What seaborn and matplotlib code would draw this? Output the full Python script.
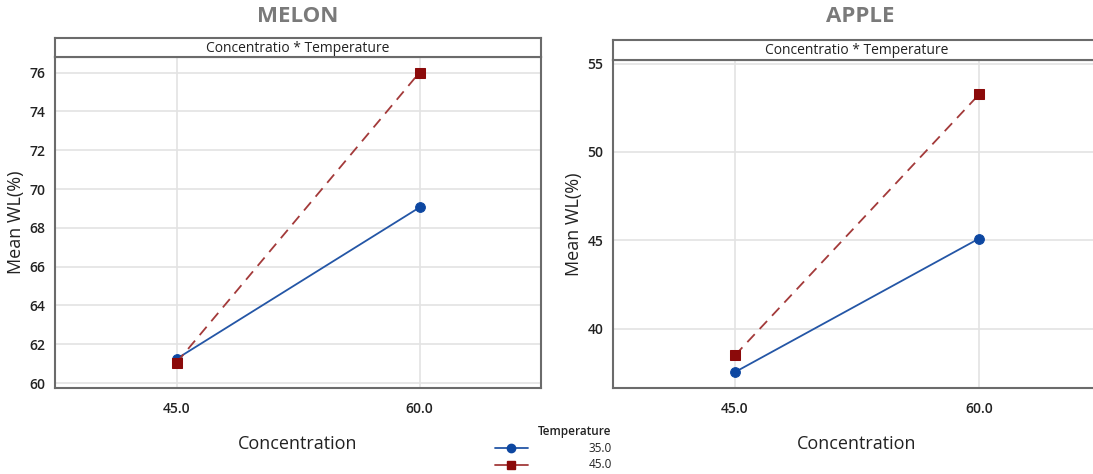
import matplotlib
matplotlib.use("Agg")
import matplotlib.pyplot as plt
from matplotlib.lines import Line2D
import seaborn as sns
import pandas as pd

# ---- data ----
concentration = [45.0, 60.0]
temperatures = ["35.0", "45.0"]
melon_35 = [61.25, 69.05]
melon_45 = [61.05, 76.0]
apple_35 = [37.55, 45.1]
apple_45 = [38.5, 53.25]
melon_yticks = [60, 62, 64, 66, 68, 70, 72, 74, 76]
apple_yticks = [40, 45, 50, 55]
xtick_labels = ["45.0", "60.0"]

def make_df(v35, v45):
    rows = []
    for c, v in zip(concentration, v35):
        rows.append({"Concentration": c, "WL": v, "Temperature": temperatures[0]})
    for c, v in zip(concentration, v45):
        rows.append({"Concentration": c, "WL": v, "Temperature": temperatures[1]})
    return pd.DataFrame(rows)

sns.set_theme(style="white")
plt.rcParams["font.family"] = ["Open Sans", "DejaVu Sans"]

BLUE = "#0d47a1"
RED = "#8b0a0a"
LINE_BLUE = "#2456a6"
LINE_RED = "#a33a3a"
FRAME = "#6b6b6b"

fig = plt.figure(figsize=(10.93, 4.74), dpi=100)

panels = [
    ("MELON", make_df(melon_35, melon_45), melon_yticks, (59.75, 76.8),
     [55 / 1093, 1 - 388 / 474, 486 / 1093, 331 / 474],
     [55 / 1093, 1 - 57 / 474, 486 / 1093, 19 / 474], 298),
    ("APPLE", make_df(apple_35, apple_45), apple_yticks, (36.65, 55.2),
     [613 / 1093, 1 - 388 / 474, 488 / 1093, 328 / 474],
     [613 / 1093, 1 - 60 / 474, 488 / 1093, 20 / 474], 860),
]

for title, df, yticks, ylim, rect, srect, tx in panels:
    ax = fig.add_axes(rect)
    sns.lineplot(data=df, x="Concentration", y="WL", hue="Temperature",
                 style="Temperature", palette={"35.0": LINE_BLUE, "45.0": LINE_RED},
                 markers={"35.0": "o", "45.0": "s"},
                 dashes={"35.0": "", "45.0": (6, 4)},
                 markersize=7, linewidth=1.3, legend=False, ax=ax)
    for ln in ax.get_lines():
        if ln.get_marker() == "o":
            ln.set_markerfacecolor(BLUE); ln.set_markeredgecolor(BLUE)
        elif ln.get_marker() == "s":
            ln.set_markerfacecolor(RED); ln.set_markeredgecolor(RED)
    ax.set_xlim(37.5, 67.5)
    ax.set_ylim(*ylim)
    ax.set_xticks(concentration)
    ax.set_xticklabels(xtick_labels)
    ax.set_yticks(yticks)
    ax.grid(True, color="#e3e3e3", linewidth=1.2)
    ax.set_axisbelow(True)
    for s in ax.spines.values():
        s.set_color(FRAME); s.set_linewidth(1.5)
    ax.tick_params(axis="both", labelsize=10, colors="#222222", length=3,
                   width=0.8, pad=4)
    ax.tick_params(axis="x", length=0, pad=10)
    for lab in ax.get_xticklabels() + ax.get_yticklabels():
        lab.set_fontweight("semibold")
    ax.set_xlabel("Concentration", fontsize=13, color="#222222", labelpad=14,
                  fontweight="medium")
    ax.set_ylabel("Mean WL(%)", fontsize=13, color="#222222", labelpad=3,
                  fontweight="medium")

    sax = fig.add_axes(srect)
    sax.set_xticks([]); sax.set_yticks([])
    sax.set_facecolor("white")
    for s in sax.spines.values():
        s.set_color(FRAME); s.set_linewidth(1.5)
    sax.text(0.5, 0.45, "Concentratio * Temperature", ha="center", va="center",
             fontsize=10, color="#222222", transform=sax.transAxes)

    fig.text(tx / 1093, 1 - 17 / 474, title, ha="center", va="center", fontsize=16,
             fontweight="bold", color="#7a7a7a")

# legend
handles = [
    Line2D([0], [0], color=LINE_BLUE, marker="o", markerfacecolor=BLUE,
           markeredgecolor=BLUE, markersize=6, linewidth=1.3),
    Line2D([0], [0], color=LINE_RED, marker="s", markerfacecolor=RED,
           markeredgecolor=RED, markersize=6, linewidth=1.3),
]
fig.text(575 / 1093, 1 - 432 / 474, "Temperature", ha="center", va="center",
         fontsize=8.5, fontweight="semibold", color="#222222")
for i, (h, lab) in enumerate(zip(handles, temperatures)):
    y = 1 - (448 + 17 * i) / 474
    fig.add_artist(Line2D([495 / 1093, 528 / 1093], [y, y], color=h.get_color(),
                          linewidth=1.3, transform=fig.transFigure))
    fig.add_artist(Line2D([511 / 1093], [y], marker=h.get_marker(),
                          markerfacecolor=h.get_markerfacecolor(),
                          markeredgecolor=h.get_markeredgecolor(),
                          markersize=6, linestyle="none",
                          transform=fig.transFigure))
    fig.text(612 / 1093, y, lab, ha="right", va="center", fontsize=8.5,
             color="#222222")

fig.savefig("out.png", dpi=100)
